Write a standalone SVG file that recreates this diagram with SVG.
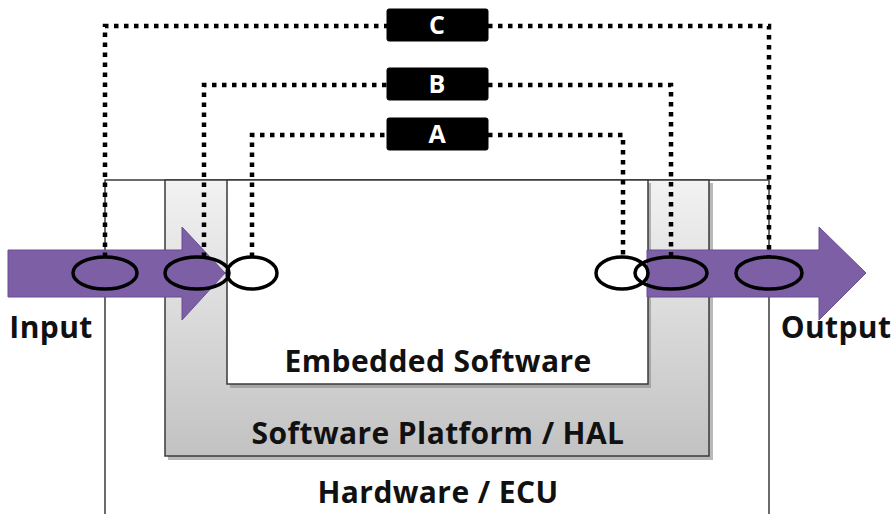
<svg xmlns="http://www.w3.org/2000/svg" width="894" height="514" viewBox="0 0 894 514">
<defs>
<linearGradient id="plat" x1="0" y1="0" x2="0" y2="1">
<stop offset="0" stop-color="#f2f2f2"/>
<stop offset="1" stop-color="#c2c2c2"/>
</linearGradient>
<style>
.box{stroke:#3a3a3a;stroke-width:1.5}
.shadow{fill:#8a8a8a;opacity:0.6}
.lbl{font-family:"Open Sans","Noto Sans",sans-serif;font-weight:bold;fill:#111;text-anchor:middle;font-size:30px;letter-spacing:0.4px}
.tag{fill:#000;stroke:#000;stroke-width:1}
.tagt{font-family:"Open Sans","Noto Sans",sans-serif;font-weight:bold;fill:#fff;font-size:25px;text-anchor:middle}
.dot{fill:none;stroke:#000;stroke-width:4.5;stroke-dasharray:4.5 5.5}
.ring{fill:none;stroke:#000;stroke-width:3.5}
.arrow{fill:#7d5fa6;stroke:#6a4d94;stroke-width:1}
</style>
</defs>
<rect width="894" height="514" fill="#fff"/>
<g id="hardware">
<path d="M105 514 V180 H769 V514" fill="none" stroke="#3a3a3a" stroke-width="1.5"/>
<text class="lbl" x="438" y="503">Hardware / ECU</text>
</g>
<g id="platform">
<rect class="shadow" x="168" y="183" width="545" height="277"/>
<rect class="box" x="165" y="180" width="544" height="276" fill="url(#plat)"/>
<text class="lbl" x="438" y="444">Software Platform / HAL</text>
</g>
<g id="embedded">
<rect class="shadow" x="230" y="183" width="421" height="205"/>
<rect class="box" x="227" y="180" width="421" height="204" fill="#fff"/>
<text class="lbl" x="438" y="372">Embedded Software</text>
</g>
<g id="input">
<path class="arrow" d="M8 250 H182 V227 L225 273 L182 320 V297 H8 Z"/>
<text class="lbl" x="51" y="338">Input</text>
</g>
<g id="output">
<path class="arrow" d="M647 250 H819 V227 L866 273 L819 320 V297 H647 Z"/>
<text class="lbl" x="836" y="338">Output</text>
</g>
<g id="connectors">
<path class="dot" d="M105 257 V26 H387"/>
<path class="dot" d="M488 26 H769 V257"/>
<path class="dot" d="M204 257 V85 H387"/>
<path class="dot" d="M488 85 H671 V257"/>
<path class="dot" d="M252 257 V135 H387"/>
<path class="dot" d="M488 135 H623 V257"/>
</g>
<g id="C">
<rect class="tag" x="387" y="9" width="101" height="32" rx="2"/>
<text class="tagt" x="437" y="34">C</text>
</g>
<g id="B">
<rect class="tag" x="387" y="68" width="101" height="32" rx="2"/>
<text class="tagt" x="437" y="93">B</text>
</g>
<g id="A">
<rect class="tag" x="387" y="118" width="101" height="32" rx="2"/>
<text class="tagt" x="437" y="143">A</text>
</g>
<g id="probes">
<ellipse class="ring" cx="105" cy="273" rx="32" ry="16"/>
<ellipse class="ring" cx="197" cy="273" rx="32" ry="16"/>
<ellipse class="ring" cx="252" cy="273" rx="25" ry="16"/>
<ellipse class="ring" cx="622" cy="273" rx="26" ry="16"/>
<ellipse class="ring" cx="671" cy="273" rx="36" ry="16"/>
<ellipse class="ring" cx="769" cy="273" rx="33" ry="16"/>
</g>
</svg>
